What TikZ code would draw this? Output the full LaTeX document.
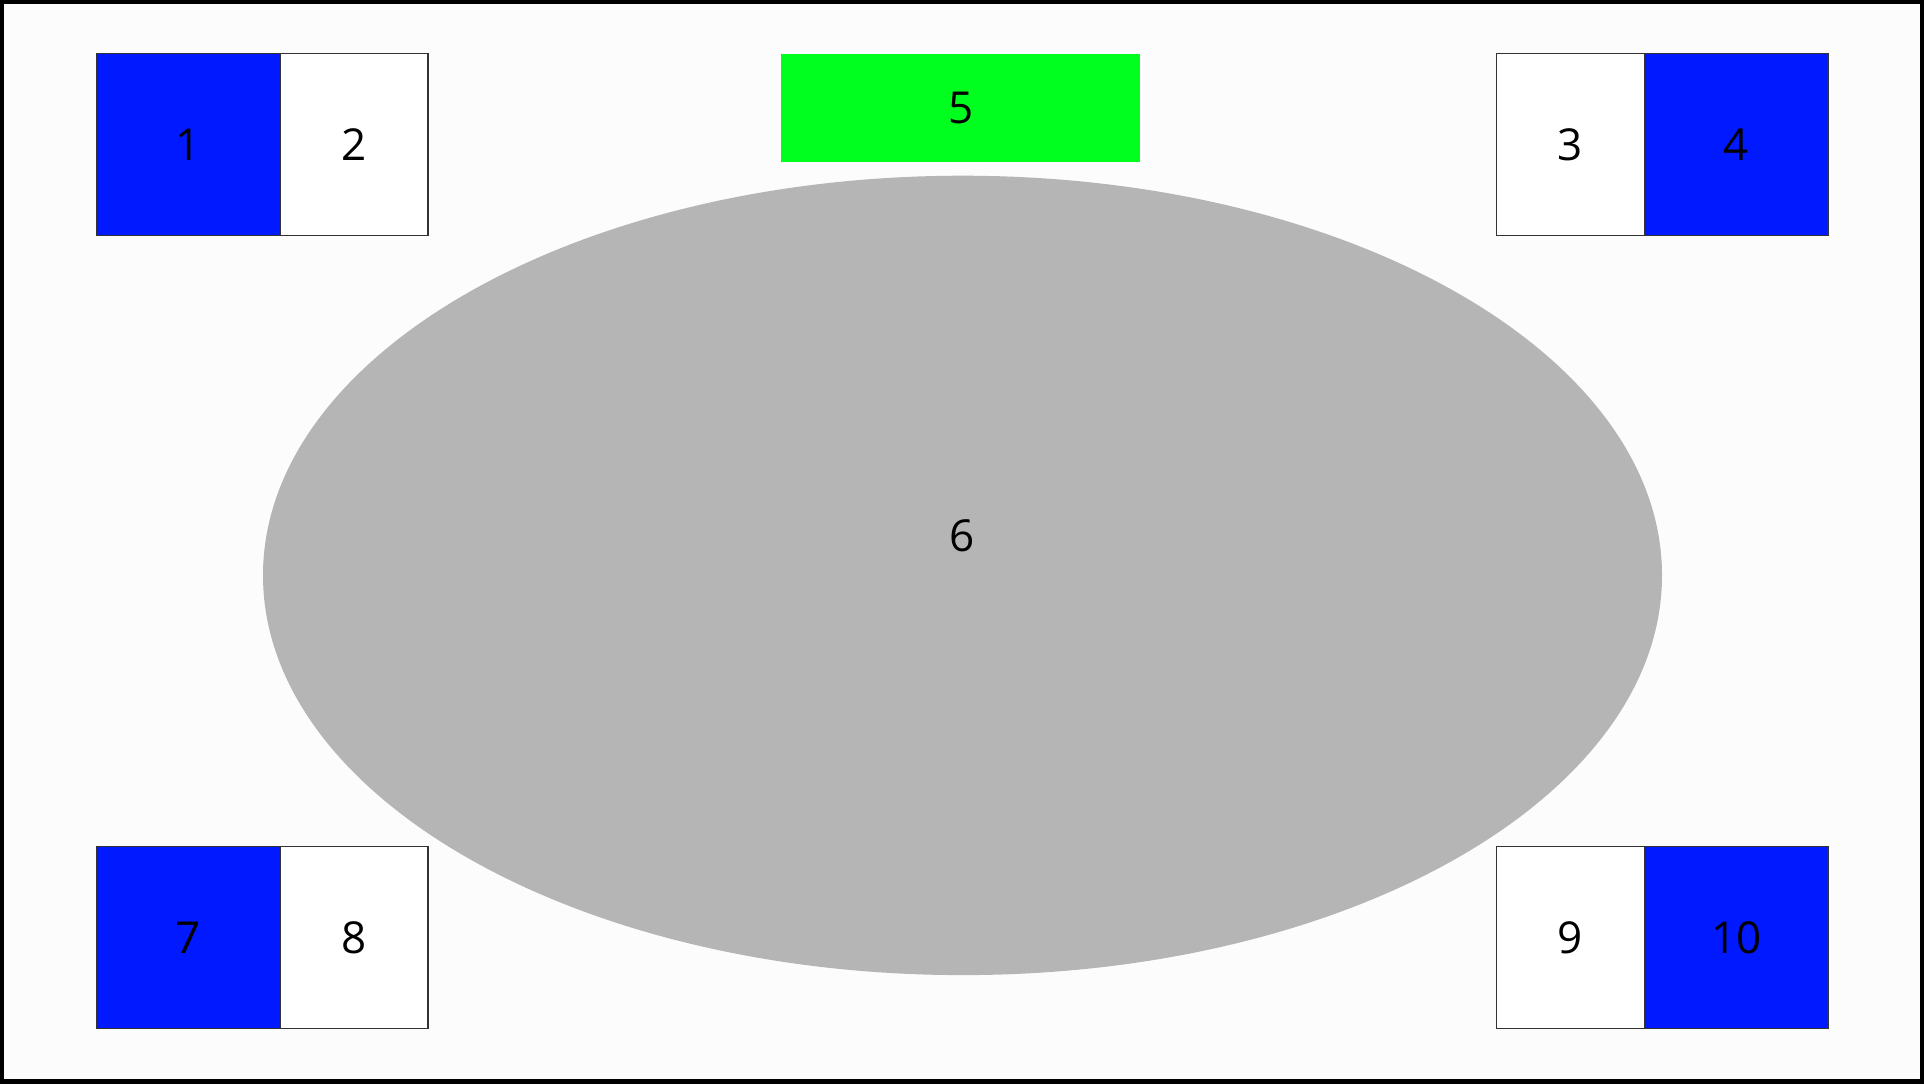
\documentclass[tikz,border=0pt]{standalone}
\usepackage{fontspec}
\setmainfont{Open Sans}
\usetikzlibrary{positioning,shapes.geometric}

\definecolor{cellblue}{HTML}{0019FF}
\definecolor{stagegreen}{HTML}{00FF1E}
\definecolor{tablegray}{HTML}{B5B5B5}
\definecolor{paper}{HTML}{FCFCFC}

\tikzset{
    cell/.style={draw=black!80, line width=1.2pt, inner sep=0pt, outer sep=0pt,
        minimum height=182.4pt, font=\fontsize{44}{52}\selectfont},
    bluecell/.style={cell, fill=cellblue, minimum width=183.6pt},
    whitecell/.style={cell, fill=white, minimum width=147.7pt},
    digit/.style={inner sep=0pt, font=\fontsize{44}{52}\selectfont}
}

\begin{document}
\begin{tikzpicture}[x=1pt, y=-1pt]
            \useasboundingbox (0,0) rectangle (1924,1084);
            \fill [black] (0,0) rectangle (1924,1084);
            \fill [paper] (4,4) rectangle (1920,1079);

            % table in the middle
            \node [ellipse, fill=tablegray, inner sep=0pt, minimum width=1399pt, minimum height=799.4pt] (table) at (962.5,575.4) {};
            \node [digit] (n6) at (962,536) {6};

            % stage at the top
            \node [fill=stagegreen, inner sep=0pt, minimum width=359pt, minimum height=108.7pt, anchor=north west, font=\fontsize{44}{52}\selectfont] (n5) at (781,53.3) {5};

            % left pairs
            \foreach \y/\a/\b in {53.3/1/2, 846.3/7/8}
            {
                \node [bluecell, anchor=north west] (n\a) at (96.7,\y) {\a};
                \node [whitecell, right=0pt of n\a] (n\b) {\b};
            }

            % right pairs
            \foreach \y/\a/\b in {53.3/3/4, 846.3/9/10}
            {
                \node [whitecell, anchor=north west] (n\a) at (1496.7,\y) {\a};
                \node [bluecell, right=0pt of n\a] (n\b) {\b};
            }

\end{tikzpicture}
\end{document}
